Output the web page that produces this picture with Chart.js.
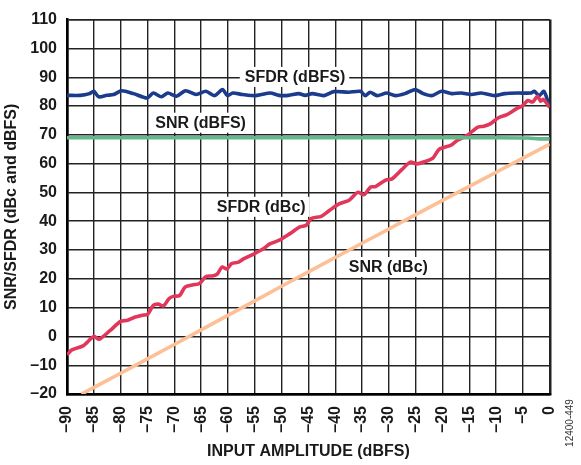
<!DOCTYPE html>
<html><head><meta charset="utf-8">
<script src="https://cdn.jsdelivr.net/npm/chart.js@4/dist/chart.umd.min.js"></script>
<style>html,body{margin:0;padding:0;background:#fff;}canvas{display:block}</style>
</head><body>
<canvas id="c" width="581" height="465"></canvas>
<script>
// ---- data ----
const sfdrDbfsX = [-90,-87.5,-85.8,-85,-84.1,-82.6,-81.3,-79.8,-77.6,-75.1,-73.9,-72.4,-71.2,-69.6,-67.9,-65.9,-64.1,-62.5,-61,-60.1,-59.1,-57.3,-54.8,-52.1,-50.5,-48.7,-46.8,-45.6,-44.3,-42.1,-40.3,-37.5,-35.3,-34.4,-33.5,-32.2,-30.4,-28.8,-27,-25.1,-23.6,-22,-20.2,-18.3,-16.5,-14.6,-12.8,-10.3,-8.4,-6,-3.5,-2.9,-2,-1.1,0];
const sfdrDbfsY = [83.7,83.7,84.3,85.1,83.2,83.7,84.0,85.3,84.3,82.8,84.5,83.2,84.5,83.4,85.3,84.0,85.1,83.6,85.7,83.6,84.5,84.0,83.6,84.5,83.7,83.7,84.3,83.7,84.3,83.6,85.0,84.8,85.1,83.6,84.8,83.6,84.5,83.6,84.3,85.7,84.3,83.6,85.1,84.3,84.5,84.0,84.5,83.6,84.3,84.5,84.5,85.1,83.6,85.1,79.5];

const sfdrDbcX = [-90,-89.1,-87,-85,-84,-82,-80,-78.7,-77.6,-75.7,-75,-73.9,-73,-72,-71,-70.2,-69,-68,-66.5,-65.3,-64.1,-62.9,-62,-61.1,-60.2,-59.3,-58,-57.1,-55.2,-53.4,-52.2,-50.3,-48.5,-46.6,-45.4,-44.5,-42.6,-41.1,-39.3,-37.4,-35.8,-34.6,-33.4,-32.5,-30.6,-29.4,-27.6,-26,-24.8,-23.3,-21.8,-20.6,-18.4,-17.2,-15.4,-13.5,-12.3,-11.1,-9.5,-8,-6.2,-5,-4.1,-3.2,-2.3,-1.7,-1.2,0];
const sfdrDbcY = [-6.4,-4.7,-3.3,0,-1,2,5.2,5.6,6.5,7.4,7.6,10.8,11.2,10.6,13.1,13.9,14.2,17.1,17.9,18.4,20.8,21,21.6,24.1,23.4,25.3,25.8,26.9,28.6,30.4,32.1,33.5,35.6,38,38.6,40.9,41.7,43.7,46,47.3,50,49.2,51.9,52,54.3,54.7,57.9,60.5,59.9,60.7,61.9,65,66.4,68.1,69.8,72.6,73,73.8,76,77,79.1,80.2,81.9,81.4,83.4,81.7,82.3,79.5];

const snrDbfsX = [-90,-70,-50,-30,-10,-4,-2,0];
const snrDbfsY = [69.0,69.0,69.0,69.0,69.0,68.9,68.6,68.6];

const snrDbcX = [-87.3,-80,-70,-60,-50,-40,-30,-20,-10,0];
const snrDbcY = [-20,-12.8,-2.8,7.3,17.4,27.4,37.3,47.2,57.0,66.8];

const seriesNames = ['SFDR (dBFS)','SNR (dBFS)','SFDR (dBc)','SNR (dBc)'];
const xAxisTitle = 'INPUT AMPLITUDE (dBFS)';
const yAxisTitle = 'SNR/SFDR (dBc and dBFS)';
const figureId = '12400-449';

// label anchors (data coordinates)
const labelAnchors = [
  {text: seriesNames[0], x: -47.5, y: 90.1},
  {text: seriesNames[1], x: -65.1, y: 74.2},
  {text: seriesNames[2], x: -53.8, y: 45.0},
  {text: seriesNames[3], x: -30.1, y: 24.1}
];

const pts = (xs, ys) => xs.map((x, i) => ({x, y: ys[i]}));
const FONT = "'Liberation Sans', Arial, Helvetica, sans-serif";

const labelPlugin = {
  id: 'labels',
  beforeDatasetsDraw(chart) {
    const ctx = chart.ctx, xs = chart.scales.x, ys = chart.scales.y;
    ctx.save();
    ctx.font = 'bold 16px ' + FONT;
    ctx.textAlign = 'center';
    ctx.textBaseline = 'middle';
    labelAnchors.forEach(a => {
      const px = xs.getPixelForValue(a.x), py = ys.getPixelForValue(a.y);
      const w = ctx.measureText(a.text).width;
      ctx.fillStyle = '#fff';
      ctx.fillRect(px - w/2 - 5, py - 10, w + 9, 20);
      ctx.fillStyle = '#1a1a1a';
      ctx.fillText(a.text, px, py + 1);
    });
    ctx.restore();
  },
  afterDraw(chart) {
    const ctx = chart.ctx;
    ctx.save();
    ctx.font = '10px ' + FONT;
    ctx.fillStyle = '#333';
    ctx.translate(570, 423);
    ctx.rotate(-Math.PI/2);
    ctx.textAlign = 'center';
    ctx.textBaseline = 'middle';
    ctx.fillText(figureId, 0, 0);
    ctx.restore();
  }
};

const ds = (label, data, color, w) => ({
  label, data, borderColor: color, borderWidth: w, pointRadius: 0,
  tension: 0.25, fill: false
});

new Chart(document.getElementById('c'), {
  type: 'line',
  data: {
    datasets: [
      ds(seriesNames[3], pts(snrDbcX, snrDbcY), '#fdbf96', 3.6),
      ds(seriesNames[1], pts(snrDbfsX, snrDbfsY), '#62b78b', 3.6),
      ds(seriesNames[2], pts(sfdrDbcX, sfdrDbcY), '#e0375a', 3.6),
      ds(seriesNames[0], pts(sfdrDbfsX, sfdrDbfsY), '#1b3c8d', 3.6)
    ]
  },
  options: {
    responsive: false,
    devicePixelRatio: 1,
    animation: false,
    layout: {padding: {left: 0, right: 29, top: 12, bottom: 0}},
    plugins: {legend: {display: false}, tooltip: {enabled: false}},
    scales: {
      x: {
        type: 'linear', min: -90, max: 0,
        afterFit: s => { s.height = 71; },
        ticks: {
          stepSize: 5, minRotation: 90, maxRotation: 90, padding: 12,
          color: '#1a1a1a', font: {family: FONT, size: 16, weight: 'bold'},
          callback: v => String(v).replace('-', '\u2013')
        },
        grid: {
          drawTicks: false, color: '#222',
          lineWidth: c => (c.tick && (c.tick.value === -90 || c.tick.value === 0)) ? 2.5 : 1.4
        },
        border: {display: true, color: '#000', width: 2.5},
        title: {
          display: true, text: xAxisTitle, color: '#1a1a1a',
          font: {family: FONT, size: 16, weight: 'bold'},
          padding: {top: 0, bottom: 4}
        }
      },
      y: {
        min: -20, max: 110,
        afterFit: s => { s.width = 67; },
        ticks: {
          stepSize: 10, padding: 10, color: '#1a1a1a',
          font: {family: FONT, size: 16, weight: 'bold'},
          callback: v => String(v).replace('-', '\u2013')
        },
        grid: {
          drawTicks: false, color: '#222',
          lineWidth: c => (c.tick && c.tick.value === -20) ? 2.5 : (c.tick && c.tick.value === 110 ? 1.8 : 1.4)
        },
        border: {display: true, color: '#000', width: 2.5},
        title: {
          display: true, text: yAxisTitle, color: '#1a1a1a',
          font: {family: FONT, size: 16, weight: 'bold'},
          padding: {top: 2, bottom: 0}
        }
      }
    }
  },
  plugins: [labelPlugin]
});
</script>
</body></html>
